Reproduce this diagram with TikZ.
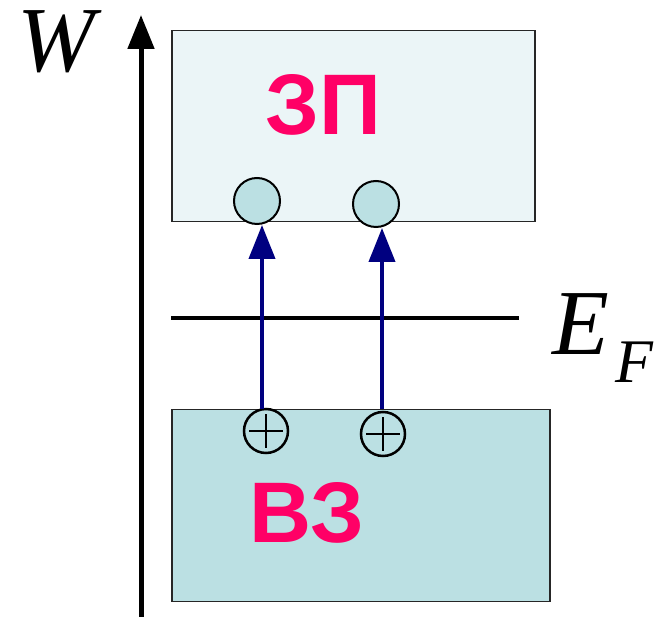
\documentclass[tikz,border=0pt]{standalone}
\usepackage{fontspec}
\setmainfont{Liberation Serif}
\newfontfamily\arialfont{Liberation Sans}
\usetikzlibrary{arrows.meta}
\definecolor{cbfill}{HTML}{EBF5F7}
\definecolor{vbfill}{HTML}{BBE0E3}
\definecolor{zonepink}{HTML}{FF0066}
\definecolor{arrnavy}{HTML}{000080}
\tikzset{
  band/.style={draw=black!85, line width=1.5pt, inner sep=0pt, anchor=north west},
  electron/.style={circle, draw=black, line width=2pt, fill=vbfill, inner sep=0pt, minimum size=46pt},
  hole/.style={circle, draw=black, line width=2.5pt, inner sep=0pt, minimum size=44pt},
  zonelabel/.style={text=zonepink, font=\arialfont\bfseries\fontsize{86}{86}\selectfont, inner sep=0pt, anchor=base west},
  trans/.style={draw=arrnavy, line width=4pt, -{Triangle[length=34pt,width=26pt]}},
  biglabel/.style={font=\itshape\fontsize{93}{93}\selectfont, inner sep=0pt, anchor=base west}
}
\begin{document}
\begin{tikzpicture}[x=1pt,y=-1pt]
\useasboundingbox (0,0) rectangle (657,617);
% bands
\node[band, fill=cbfill, minimum width=363pt, minimum height=191pt] (cb) at (171,30) {};
\node[band, fill=vbfill, minimum width=378pt, minimum height=192pt] (vb) at (171,409) {};
% axis
\coordinate (axb) at (141,617);
\coordinate (axt) at (141,15);
\draw[line width=5pt, -{Triangle[length=34pt,width=26pt]}] (axb) -- (axt);
\node[biglabel] (W) at (17,72) {W};
% Fermi level
\coordinate (fl) at (171,318);
\coordinate (fr) at (519,318);
\draw[line width=4.5pt] (fl) -- (fr);
\node[biglabel] (EF) at (552,355) {E\kern6pt\raisebox{-28pt}{\fontsize{62}{62}\selectfont F}};
% labels
\node[zonelabel] (zp) at (265,135) {ЗП};
\node[zonelabel] (vz) at (249,543) {ВЗ};
% electrons
\node[electron] (e1) at (257,201) {};
\node[electron] (e2) at (376,204) {};
% holes
\node[hole] (h1) at (266,431) {};
\node[hole] (h2) at (383,434) {};
\draw[line width=2.5pt] ([xshift=-17pt]h1.center) -- ([xshift=17pt]h1.center);
\draw[line width=2.5pt] ([yshift=-17pt]h1.center) -- ([yshift=17pt]h1.center);
\draw[line width=2.5pt] ([xshift=-17pt]h2.center) -- ([xshift=17pt]h2.center);
\draw[line width=2.5pt] ([yshift=-17pt]h2.center) -- ([yshift=17pt]h2.center);
% transitions
\coordinate (a1) at (262,409);
\coordinate (a2) at (382,409);
\draw[trans] (a1) -- (a1 |- e1.south);
\draw[trans] (a2) -- (a2 |- e2.south);
\end{tikzpicture}
\end{document}
